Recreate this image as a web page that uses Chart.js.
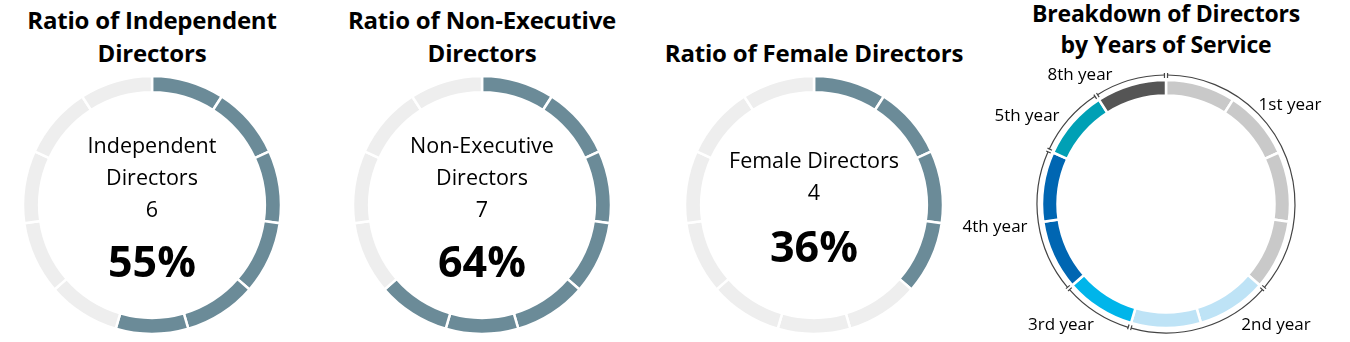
<!DOCTYPE html>
<html>
<head>
<meta charset="utf-8">
<title>Board Composition</title>
<script src="https://cdn.jsdelivr.net/npm/chart.js@4.4.1/dist/chart.umd.min.js"></script>
<style>
  body { margin: 0; background: #fff; font-family: "Open Sans", sans-serif; color: #000; }
  #wrap { position: relative; width: 1350px; height: 342px; overflow: hidden; }
  .panel { position: absolute; top: 0; width: 300px; height: 342px; }
  .panel canvas { position: absolute; left: 15px; }
  .title { position: absolute; left: -10px; right: -10px; text-align: center; font-weight: 700; font-size: 24px; line-height: 33px; white-space: nowrap; letter-spacing: -0.2px; }
  .label { position: absolute; left: 0; right: 0; text-align: center; font-size: 21.5px; line-height: 32px; }
  .pct { position: absolute; left: 0; right: 0; text-align: center; font-weight: 700; font-size: 43px; line-height: 50px; }
  .year { position: absolute; font-size: 17px; line-height: 20px; transform: translateX(-50%); white-space: nowrap; }
</style>
</head>
<body>
<div id="wrap"></div>
<script>
// board of 11 directors
const totalDirectors = 11;

const ratioTitles = ['Ratio of Independent\nDirectors', 'Ratio of Non-Executive\nDirectors', 'Ratio of Female Directors'];
const ratioLabels = ['Independent\nDirectors', 'Non-Executive\nDirectors', 'Female Directors'];
const ratioCounts = [6, 7, 4];

const yearLabels = ['1st year', '2nd year', '3rd year', '4th year', '5th year', '8th year'];
const yearCounts = [4, 2, 1, 2, 1, 1];

const SLATE = '#6b8b98';
const EMPTY = '#eeeeee';
const yearColors = ['#c9c9c9', '#bee3f6', '#00b5ea', '#0066b2', '#00a0b5', '#555555'];

// panel layout: centre x of each ring, and where text sits
const panelX = [152, 482, 814, 1166];
const titleTop = [3, 3, 36];
const labelTop = [129, 129, 144];
const pctTop = [236, 236, 221];
const yearLabelPos = [[1290, 94], [1276, 314], [1061, 314], [995, 216], [1027, 105], [1080, 64]];

const wrap = document.getElementById('wrap');

function makePanel(i, cy) {
  var panel = document.createElement('div');
  panel.className = 'panel';
  panel.style.left = (panelX[i] - 150) + 'px';
  var canvas = document.createElement('canvas');
  canvas.width = 270;
  canvas.height = 270;
  canvas.style.width = '270px';
  canvas.style.height = '270px';
  canvas.style.top = (cy - 135) + 'px';
  panel.appendChild(canvas);
  wrap.appendChild(panel);
  return { panel: panel, canvas: canvas };
}

function addText(parent, cls, text, top) {
  var d = document.createElement('div');
  d.className = cls;
  d.style.top = top + 'px';
  d.innerHTML = text.split('\n').join('<br>');
  parent.appendChild(d);
  return d;
}

const baseOptions = {
  responsive: false,
  animation: false,
  rotation: 0,
  plugins: { legend: { display: false }, tooltip: { enabled: false } },
  events: []
};

// the three ratio rings, one segment per director
ratioCounts.forEach(function (count, i) {
  var p = makePanel(i, 205);
  addText(p.panel, 'title', ratioTitles[i], titleTop[i]);
  addText(p.panel, 'label', ratioLabels[i] + '\n' + count, labelTop[i]);
  addText(p.panel, 'pct', Math.round(count / totalDirectors * 100) + '%', pctTop[i]);

  var data = [], colors = [];
  for (var k = 0; k < totalDirectors; k++) {
    data.push(1);
    colors.push(k < count ? SLATE : EMPTY);
  }
  new Chart(p.canvas.getContext('2d'), {
    type: 'doughnut',
    data: {
      labels: data.map(function (d, k) { return k < count ? ratioLabels[i] : 'Other'; }),
      datasets: [{ data: data, backgroundColor: colors, borderColor: '#fff', borderWidth: 2.5 }]
    },
    options: Object.assign({}, baseOptions, { radius: 129, cutout: '87.5%' })
  });
});

// thin outer ring with end ticks around each years-of-service group
const bracketRing = {
  id: 'bracketRing',
  afterDatasetsDraw(chart) {
    var arcs = chart.getDatasetMeta(0).data;
    var ctx = chart.ctx;
    var cx = arcs[0].x, cy = arcs[0].y;
    var r = arcs[0].outerRadius + 5;
    var gap = 0.012;
    var idx = 0;
    ctx.save();
    ctx.strokeStyle = '#444';
    ctx.lineWidth = 1.2;
    yearCounts.forEach(function (n) {
      var a0 = arcs[idx].startAngle + gap;
      var a1 = arcs[idx + n - 1].endAngle - gap;
      idx += n;
      ctx.beginPath();
      ctx.arc(cx, cy, r, a0, a1);
      ctx.stroke();
      [a0, a1].forEach(function (a) {
        ctx.beginPath();
        ctx.moveTo(cx + Math.cos(a) * (r - 3), cy + Math.sin(a) * (r - 3));
        ctx.lineTo(cx + Math.cos(a) * (r + 2), cy + Math.sin(a) * (r + 2));
        ctx.stroke();
      });
    });
    ctx.restore();
  }
};

var p4 = makePanel(3, 204);
var t4 = addText(p4.panel, 'title', 'Breakdown of Directors\nby Years of Service', -2);
t4.style.lineHeight = '31px';
t4.style.fontSize = '23px';

yearLabels.forEach(function (lbl, i) {
  var d = document.createElement('div');
  d.className = 'year';
  d.style.left = yearLabelPos[i][0] + 'px';
  d.style.top = yearLabelPos[i][1] + 'px';
  d.textContent = lbl;
  wrap.appendChild(d);
});

var yearData = [], yearSegColors = [], yearSegLabels = [];
yearCounts.forEach(function (n, g) {
  for (var k = 0; k < n; k++) {
    yearData.push(1);
    yearSegColors.push(yearColors[g]);
    yearSegLabels.push(yearLabels[g]);
  }
});

new Chart(p4.canvas.getContext('2d'), {
  type: 'doughnut',
  data: {
    labels: yearSegLabels,
    datasets: [{ data: yearData, backgroundColor: yearSegColors, borderColor: '#fff', borderWidth: 2.5 }]
  },
  options: Object.assign({}, baseOptions, { radius: 124, cutout: '87.5%' }),
  plugins: [bracketRing]
});
</script>
</body>
</html>
